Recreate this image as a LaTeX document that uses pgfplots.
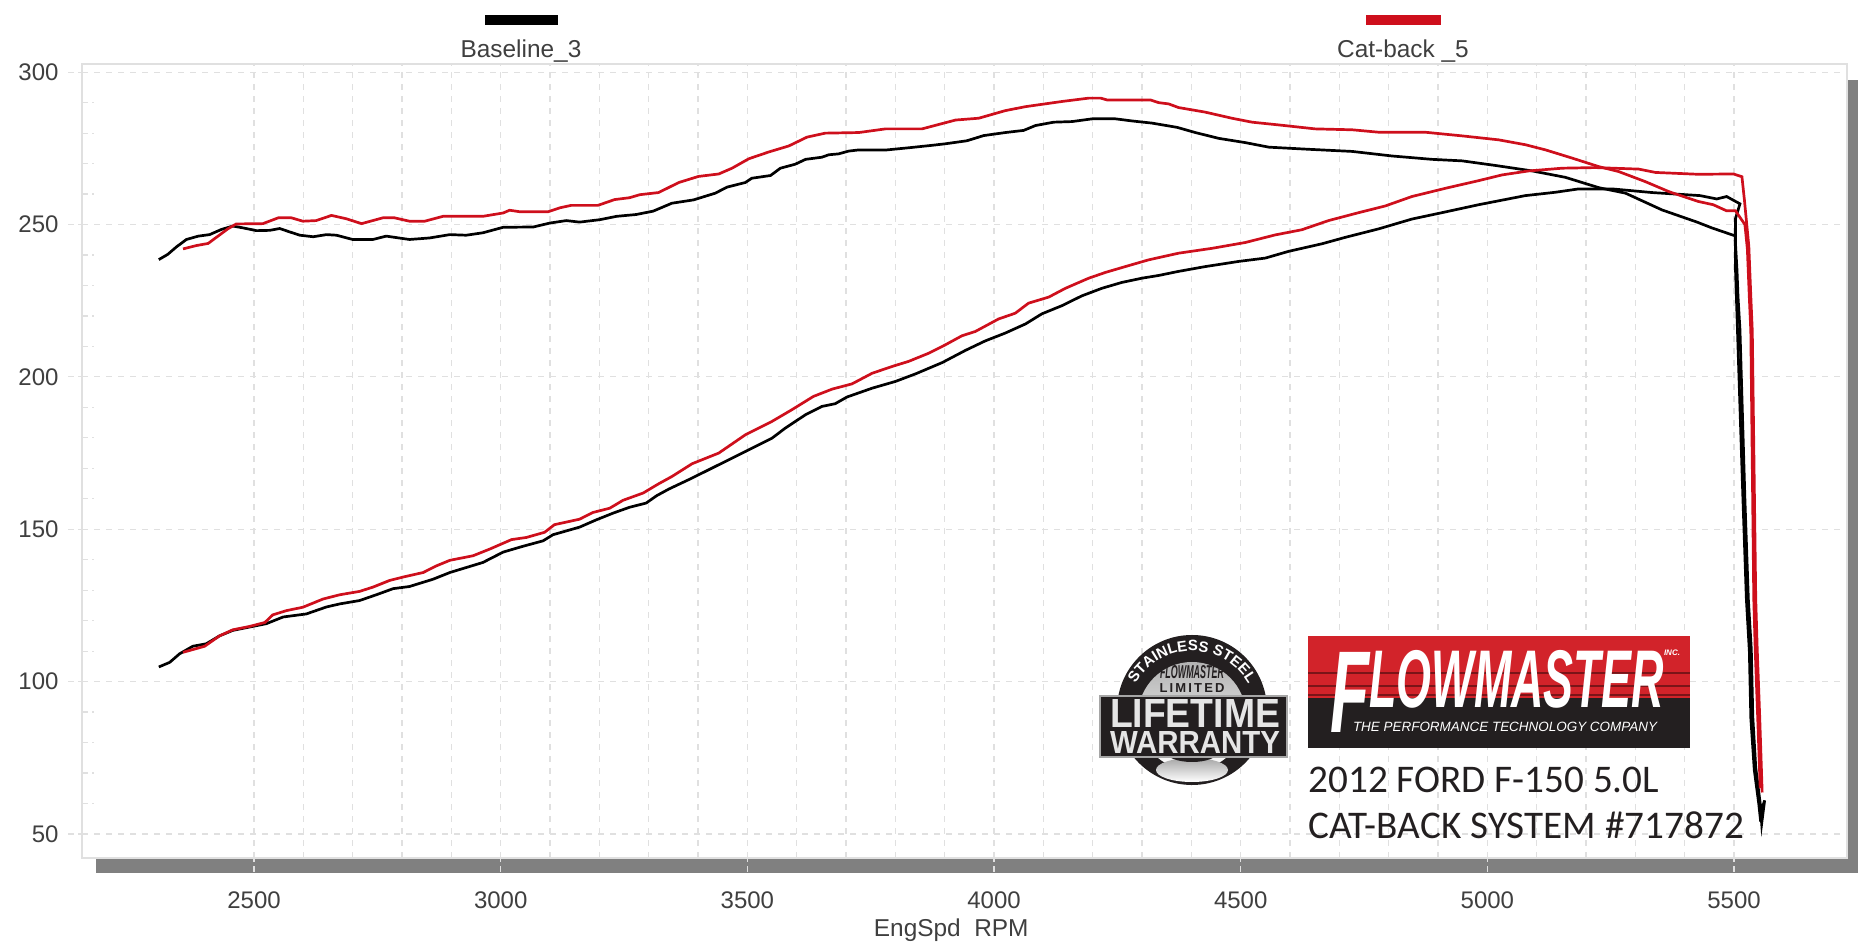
\documentclass[border=0pt]{standalone}
\usepackage{fontspec}
\usepackage{graphicx}
\usepackage{pgfplots}
\pgfplotsset{compat=1.18}
\usetikzlibrary{decorations.text}
\setmainfont{Liberation Sans}
\newfontfamily\carlito{Carlito}

\definecolor{gridgray}{HTML}{E0E0E0}
\definecolor{labelgray}{HTML}{3F3F3F}
\definecolor{shadowgray}{HTML}{808080}
\definecolor{runred}{HTML}{CE0F1C}
\definecolor{logored}{HTML}{D2232A}
\definecolor{logodark}{HTML}{231F20}
\definecolor{logostripe}{HTML}{7A1418}

\begin{document}
\begin{tikzpicture}
\path[use as bounding box] (0pt,0pt) rectangle (929pt,473pt);

% drop shadow of the plot area; scope coordinates are reference pixels, y down
\begin{scope}[x=0.5pt,y=-0.5pt,yshift=473pt]
\fill[shadowgray] (96,859) rectangle (1858,873);
\fill[shadowgray] (1847,80) rectangle (1858,873);
\end{scope}

\begin{axis}[
    at={(41pt,44pt)},anchor=south west,
    scale only axis,width=882.5pt,height=397pt,
    xmin=2151.3,xmax=5729,ymin=42.1,ymax=302.7,
    xtick={2500,3000,3500,4000,4500,5000,5500},
    ytick={50,100,150,200,250,300},
    minor x tick num=4,minor y tick num=4,
    xmajorgrids,xminorgrids,ymajorgrids,
    grid style={gridgray,line width=0.6pt,dash pattern=on 3pt off 3pt},
    minor grid style={gridgray,line width=0.6pt,dash pattern=on 3pt off 3pt},
    tick align=outside,tick pos=left,
    major tick length=7pt,minor tick length=6pt,
    tick style={gridgray,line width=0.6pt,dash pattern=on 3pt off 2pt},
    minor x tick style={draw=none},
    minor y tick style={xshift=6pt},
    axis line style={gridgray,line width=0.6pt},
    /pgf/number format/assume math mode=true,
    /pgf/number format/set thousands separator={},
    tick label style={font=\fontsize{12}{14}\selectfont,text=labelgray},
    xticklabel shift=6.3pt,
    yticklabel shift=1.2pt,
    xlabel={EngSpd\ \ RPM},
    every axis x label/.style={at={(axis description cs:0.4925,-0.0907)},anchor=center,
      font=\fontsize{12.2}{14}\selectfont,text=labelgray},
  ]
  % Baseline_3, upper curve
  \addplot[black,line width=1.35pt,mark=none] coordinates {
    (2307,238.5)(2325,240.2)(2343,242.7)(2363,245.1)(2387,246.2)(2410,246.7)(2434,248.4)(2457,249.5)
    (2478,248.9)(2505,248.0)(2532,248.1)(2552,248.7)(2572,247.6)(2593,246.5)(2620,246.0)(2647,246.7)
    (2667,246.5)(2700,245.1)(2741,245.1)(2768,246.2)(2815,245.1)(2856,245.6)(2897,246.7)(2930,246.5)
    (2964,247.3)(3005,249.1)(3066,249.2)(3100,250.5)(3133,251.3)(3160,250.8)(3201,251.6)(3235,252.7)
    (3275,253.3)(3309,254.4)(3347,257.0)(3391,258.1)(3435,260.3)(3459,262.3)(3496,263.8)(3509,265.2)
    (3547,266.1)(3567,268.5)(3597,269.8)(3618,271.4)(3651,272.1)(3665,272.9)(3685,273.2)(3705,274.1)
    (3726,274.5)(3783,274.5)(3827,275.2)(3874,276.0)(3901,276.5)(3945,277.5)(3979,279.2)(4023,280.2)
    (4060,280.9)(4084,282.5)(4121,283.6)(4158,283.8)(4199,284.7)(4246,284.7)(4280,284.0)(4320,283.3)
    (4371,281.9)(4408,280.2)(4455,278.3)(4509,276.9)(4557,275.4)(4638,274.7)(4726,274.0)(4807,272.5)
    (4888,271.4)(4949,270.9)(5016,269.4)(5091,267.6)(5158,265.5)(5226,262.1)(5280,260.3)(5354,254.8)
    (5425,250.8)(5455,248.9)(5502,246.3)(5506,235)(5508,226.4)(5512,215.5)(5522,160)(5529,127)
    (5535,110.6)(5538,88.5)(5544,71.8)(5553,60)(5556,53.4)(5562,61)(5556,58)
  };
  % Baseline_3, lower curve
  \addplot[black,line width=1.35pt,mark=none] coordinates {
    (2307,104.8)(2329,106.3)(2349,109.1)(2376,111.6)(2403,112.4)(2430,115.0)(2457,116.8)(2491,117.9)
    (2525,119.0)(2559,121.2)(2606,122.2)(2647,124.5)(2674,125.5)(2714,126.6)(2748,128.5)(2782,130.5)
    (2815,131.2)(2863,133.6)(2897,135.8)(2964,139.1)(3005,142.5)(3045,144.4)(3086,146.2)(3106,148.2)
    (3160,150.7)(3194,153.1)(3228,155.3)(3261,157.2)(3295,158.6)(3316,161.0)(3341,163.2)(3388,166.8)
    (3435,170.6)(3496,175.5)(3550,179.9)(3577,183.2)(3618,187.6)(3651,190.3)(3678,191.2)(3702,193.4)
    (3753,196.3)(3800,198.5)(3841,201.0)(3895,204.7)(3942,208.7)(3982,211.8)(4023,214.4)(4064,217.4)
    (4097,220.7)(4138,223.4)(4178,226.6)(4219,229.1)(4259,231.0)(4300,232.4)(4334,233.3)(4373,234.6)
    (4428,236.2)(4496,237.9)(4550,239.0)(4597,241.2)(4665,243.7)(4712,245.8)(4780,248.6)(4847,251.8)
    (4908,253.9)(4982,256.5)(5077,259.5)(5138,260.6)(5185,261.7)(5253,261.7)(5334,260.5)(5431,259.5)
    (5465,258.4)(5485,259.2)(5512,256.8)(5503,252)(5503,235)(5507,215)(5518,160)(5525,127)
    (5531,110)(5534,88)(5541,71)(5550,60)(5554,54)
  };
  % Cat-back _5, upper curve
  \addplot[runred,line width=1.35pt,mark=none] coordinates {
    (2356,242.0)(2383,243.1)(2407,243.8)(2427,246.2)(2447,248.6)(2464,250.2)(2518,250.3)(2549,252.2)
    (2576,252.2)(2599,251.1)(2626,251.3)(2657,253.0)(2687,251.9)(2718,250.3)(2761,252.2)(2785,252.2)
    (2815,251.1)(2846,251.1)(2883,252.7)(2964,252.7)(3005,253.8)(3018,254.7)(3039,254.2)(3096,254.2)
    (3120,255.5)(3143,256.3)(3197,256.3)(3231,258.2)(3261,258.8)(3282,259.8)(3320,260.5)(3361,263.8)
    (3401,265.8)(3442,266.6)(3469,268.5)(3503,271.6)(3543,273.8)(3584,275.8)(3621,278.7)(3658,280.0)
    (3726,280.2)(3780,281.4)(3854,281.4)(3922,284.3)(3969,284.9)(4023,287.4)(4064,288.7)(4138,290.4)
    (4192,291.5)(4216,291.5)(4229,290.9)(4317,290.9)(4334,290.0)(4354,289.6)(4374,288.4)(4428,286.9)
    (4482,284.9)(4523,283.6)(4577,282.7)(4651,281.4)(4726,281.1)(4780,280.3)(4874,280.3)(4949,279.1)
    (5023,277.8)(5077,276.2)(5118,274.5)(5172,271.8)(5226,269.0)(5266,267.4)(5320,264.1)(5368,260.8)
    (5427,257.6)(5458,256.5)(5485,254.5)(5503,254.5)(5522,250)(5527,242)(5531,226)(5534,215)
    (5540,127)(5543,110)(5548,88)(5553,65)
  };
  % Cat-back _5, lower curve
  \addplot[runred,line width=1.35pt,mark=none] coordinates {
    (2356,109.6)(2400,111.6)(2430,115.0)(2457,117.0)(2491,118.1)(2522,119.4)(2538,121.9)(2566,123.3)
    (2599,124.4)(2640,127.1)(2674,128.5)(2714,129.6)(2741,131.0)(2775,133.2)(2802,134.3)(2843,135.8)
    (2870,138.0)(2897,139.8)(2944,141.3)(2978,143.5)(3022,146.6)(3052,147.3)(3089,149.0)(3109,151.5)
    (3160,153.3)(3187,155.5)(3221,156.9)(3248,159.5)(3289,161.9)(3320,164.9)(3347,167.3)(3388,171.5)
    (3442,175.0)(3496,181.0)(3550,185.4)(3590,189.2)(3634,193.6)(3672,196.0)(3712,197.7)(3753,201.2)
    (3793,203.4)(3827,205.1)(3868,207.8)(3901,210.5)(3935,213.5)(3962,214.9)(4009,219.0)(4043,220.9)
    (4070,224.2)(4111,226.2)(4145,229.1)(4192,232.4)(4226,234.3)(4266,236.2)(4313,238.4)(4374,240.6)
    (4442,242.2)(4509,244.1)(4570,246.6)(4624,248.3)(4678,251.3)(4739,253.9)(4793,256.1)(4847,259.2)
    (4915,261.9)(4982,264.4)(5030,266.3)(5084,267.6)(5152,268.5)(5219,268.7)(5307,268.2)(5341,267.1)
    (5427,266.5)(5499,266.6)(5516,265.7)(5521,258.1)(5530,242.8)(5534,226.4)(5537,215)(5544,127)
    (5547,110.6)(5552,88.5)(5557,63.6)
  };
\end{axis}

\begin{scope}[x=0.5pt,y=-0.5pt,yshift=473pt]
% legend
\fill[black] (485,15) rectangle (558,25);
\node[font=\fontsize{12.2}{14}\selectfont,text=labelgray] at (521,51) {Baseline\_3};
\fill[runred] (1366,15) rectangle (1441,25);
\node[font=\fontsize{12.2}{14}\selectfont,text=labelgray] at (1403,51) {Cat-back \_5};

% company logo
\fill[logored] (1308,636) rectangle (1690,699);
\fill[logodark] (1308,698) rectangle (1690,748);
\fill[logostripe] (1308,672) rectangle (1690,674);
\fill[logostripe] (1308,685) rectangle (1690,687);
\fill[logostripe] (1308,694) rectangle (1690,696);
\node[anchor=north west,inner sep=0pt,text=white] at (1330,650)
  {\resizebox*{166.5pt}{41pt}{\bfseries\itshape\raisebox{-7.9pt}{\fontsize{37}{37}\selectfont F}\fontsize{26}{26}\selectfont LOWMASTER}};
\node[anchor=center,inner sep=0pt,text=white] at (1505,727)
  {\resizebox{152pt}{!}{\itshape THE PERFORMANCE TECHNOLOGY COMPANY}};
\node[anchor=center,inner sep=0pt,text=white,font=\bfseries\itshape\fontsize{4}{4}\selectfont] at (1672,653) {INC.};

% vehicle caption
\node[anchor=west,inner sep=0pt,font=\carlito\fontsize{19.6}{21}\selectfont,text=logodark] at (1308,780) {2012 FORD F-150 5.0L};
\node[anchor=west,inner sep=0pt,font=\carlito\fontsize{19.6}{21}\selectfont,text=logodark] at (1308,825) {CAT-BACK SYSTEM \#717872};

% warranty badge
\fill[logodark] (1192,710) circle[radius=75];
\shade[top color=gray!60,bottom color=white] (1192,716) circle[radius=54];
\shade[top color=gray!70,bottom color=white] (1192,770) ellipse[x radius=36,y radius=12];
\fill[logodark] (1192,752) ellipse[x radius=26,y radius=10];
\path[decorate,decoration={text along path,text align=center,
    text={|\color{white}\bfseries\fontsize{7.5}{8}\selectfont|STAINLESS STEEL}}]
  (1192,716) ++(-172:65) arc[start angle=-172,end angle=-8,radius=65];
\node[inner sep=0pt] at (1192,672) {\resizebox{32pt}{6.5pt}{\bfseries\itshape\color{logodark}FLOWMASTER}};
\node[inner sep=0pt,font=\bfseries\fontsize{6.5}{7}\selectfont,text=logodark] at (1192,688) {L\,I\,M\,I\,T\,E\,D};
\fill[logodark,draw=gray!70,line width=1pt] (1100,696) rectangle (1287,757);
\node[inner sep=0pt,text=gray!20] at (1195,714) {\resizebox{85pt}{14pt}{\bfseries LIFETIME}};
\node[inner sep=0pt,text=gray!20] at (1195,743) {\resizebox{85pt}{11pt}{\bfseries WARRANTY}};
\end{scope}
\end{tikzpicture}
\end{document}
